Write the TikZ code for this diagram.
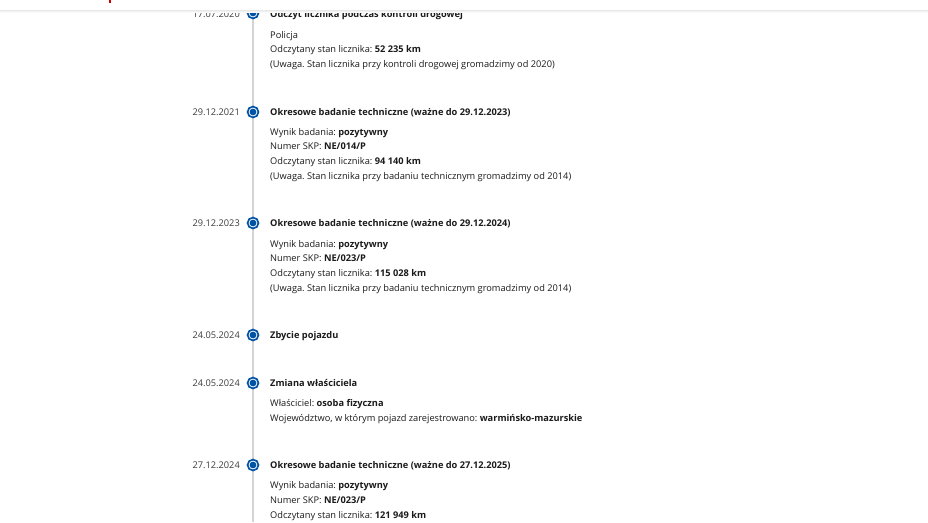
\documentclass[tikz,border=0pt]{standalone}
\usepackage{fontspec}
\setmainfont{Open Sans}
\frenchspacing
\definecolor{govblue}{HTML}{0052A5}
\definecolor{txtdark}{HTML}{1B1B1B}
\definecolor{datgrey}{HTML}{3C3C3C}

\begin{document}
\begin{tikzpicture}[
                x=1pt, y=-1pt,
                every node/.style={inner sep=0pt, text=txtdark, font=\fontsize{9.25}{11}\selectfont},
                datum/.style={anchor=mid east, text=datgrey, yshift=-1.5pt},
                heading/.style={anchor=mid west, yshift=-1.5pt, font=\fontsize{9.25}{11}\selectfont\bfseries},
                detail/.style={anchor=mid west, yshift=-1.5pt},
                marker/.style={circle, draw=govblue, line width=1.7pt, fill=white, minimum size=10.9pt, yshift=-1pt,
                    path picture={\fill[govblue] (path picture bounding box.center) circle (3.4pt);}},
                timeline/.style={draw=black!17, line width=1.4pt}
            ]
                \useasboundingbox (0,0) rectangle (928,522);
                \fill[white] (0,0) rectangle (928,522);
                \def\lx{270}
                \def\dx{240}
                % the axis
                \coordinate (axtop) at (253,10);
                \coordinate (axbot) at (253,522);
                \draw[timeline] (axtop) -- (axbot);
                % 1
                \node[marker] (m1) at (253,12) {};
                \node[datum] (d1) at (\dx,13) {17.07.2020};
                \node[heading] (h1) at (\lx,13) {Odczyt licznika podczas kontroli drogowej};
                \node[detail] (a1) at (\lx,34) {Policja};
                \node[detail] (b1) at (\lx,48.5) {Odczytany stan licznika: \textbf{52 235 km}};
                \node[detail] (c1) at (\lx,63) {(Uwaga. Stan licznika przy kontroli drogowej gromadzimy od 2020)};
                % 2
                \node[marker] (m2) at (253,111) {};
                \node[datum] (d2) at (\dx,111) {29.12.2021};
                \node[heading] (h2) at (\lx,111) {Okresowe badanie techniczne (ważne do 29.12.2023)};
                \node[detail] (a2) at (\lx,131) {Wynik badania: \textbf{pozytywny}};
                \node[detail] (b2) at (\lx,145.5) {Numer SKP: \textbf{NE/014/P}};
                \node[detail] (c2) at (\lx,160) {Odczytany stan licznika: \textbf{94 140 km}};
                \node[detail] (e2) at (\lx,175) {(Uwaga. Stan licznika przy badaniu technicznym gromadzimy od 2014)};
                % 3
                \node[marker] (m3) at (253,222) {};
                \node[datum] (d3) at (\dx,222) {29.12.2023};
                \node[heading] (h3) at (\lx,222) {Okresowe badanie techniczne (ważne do 29.12.2024)};
                \node[detail] (a3) at (\lx,243) {Wynik badania: \textbf{pozytywny}};
                \node[detail] (b3) at (\lx,257.5) {Numer SKP: \textbf{NE/023/P}};
                \node[detail] (c3) at (\lx,272) {Odczytany stan licznika: \textbf{115 028 km}};
                \node[detail] (e3) at (\lx,287) {(Uwaga. Stan licznika przy badaniu technicznym gromadzimy od 2014)};
                % 4
                \node[marker] (m4) at (253,334) {};
                \node[datum] (d4) at (\dx,334) {24.05.2024};
                \node[heading] (h4) at (\lx,334) {Zbycie pojazdu};
                % 5
                \node[marker] (m5) at (253,382) {};
                \node[datum] (d5) at (\dx,382) {24.05.2024};
                \node[heading] (h5) at (\lx,382) {Zmiana właściciela};
                \node[detail] (a5) at (\lx,402) {Właściciel: \textbf{osoba fizyczna}};
                \node[detail] (b5) at (\lx,417) {Województwo, w którym pojazd zarejestrowano: \textbf{warmińsko-mazurskie}};
                % 6
                \node[marker] (m6) at (253,464) {};
                \node[datum] (d6) at (\dx,464) {27.12.2024};
                \node[heading] (h6) at (\lx,464) {Okresowe badanie techniczne (ważne do 27.12.2025)};
                \node[detail] (a6) at (\lx,484) {Wynik badania: \textbf{pozytywny}};
                \node[detail] (b6) at (\lx,499) {Numer SKP: \textbf{NE/023/P}};
                \node[detail] (c6) at (\lx,514) {Odczytany stan licznika: \textbf{121 949 km}};
                % page header over the first entry
                \fill[white] (0,0) rectangle (928,10);
                \shade[top color=black!9, bottom color=white] (0,10) rectangle (928,12.5);
                \fill[red!80!black] (109,0) rectangle (111,3);
            \end{tikzpicture}
\end{document}
